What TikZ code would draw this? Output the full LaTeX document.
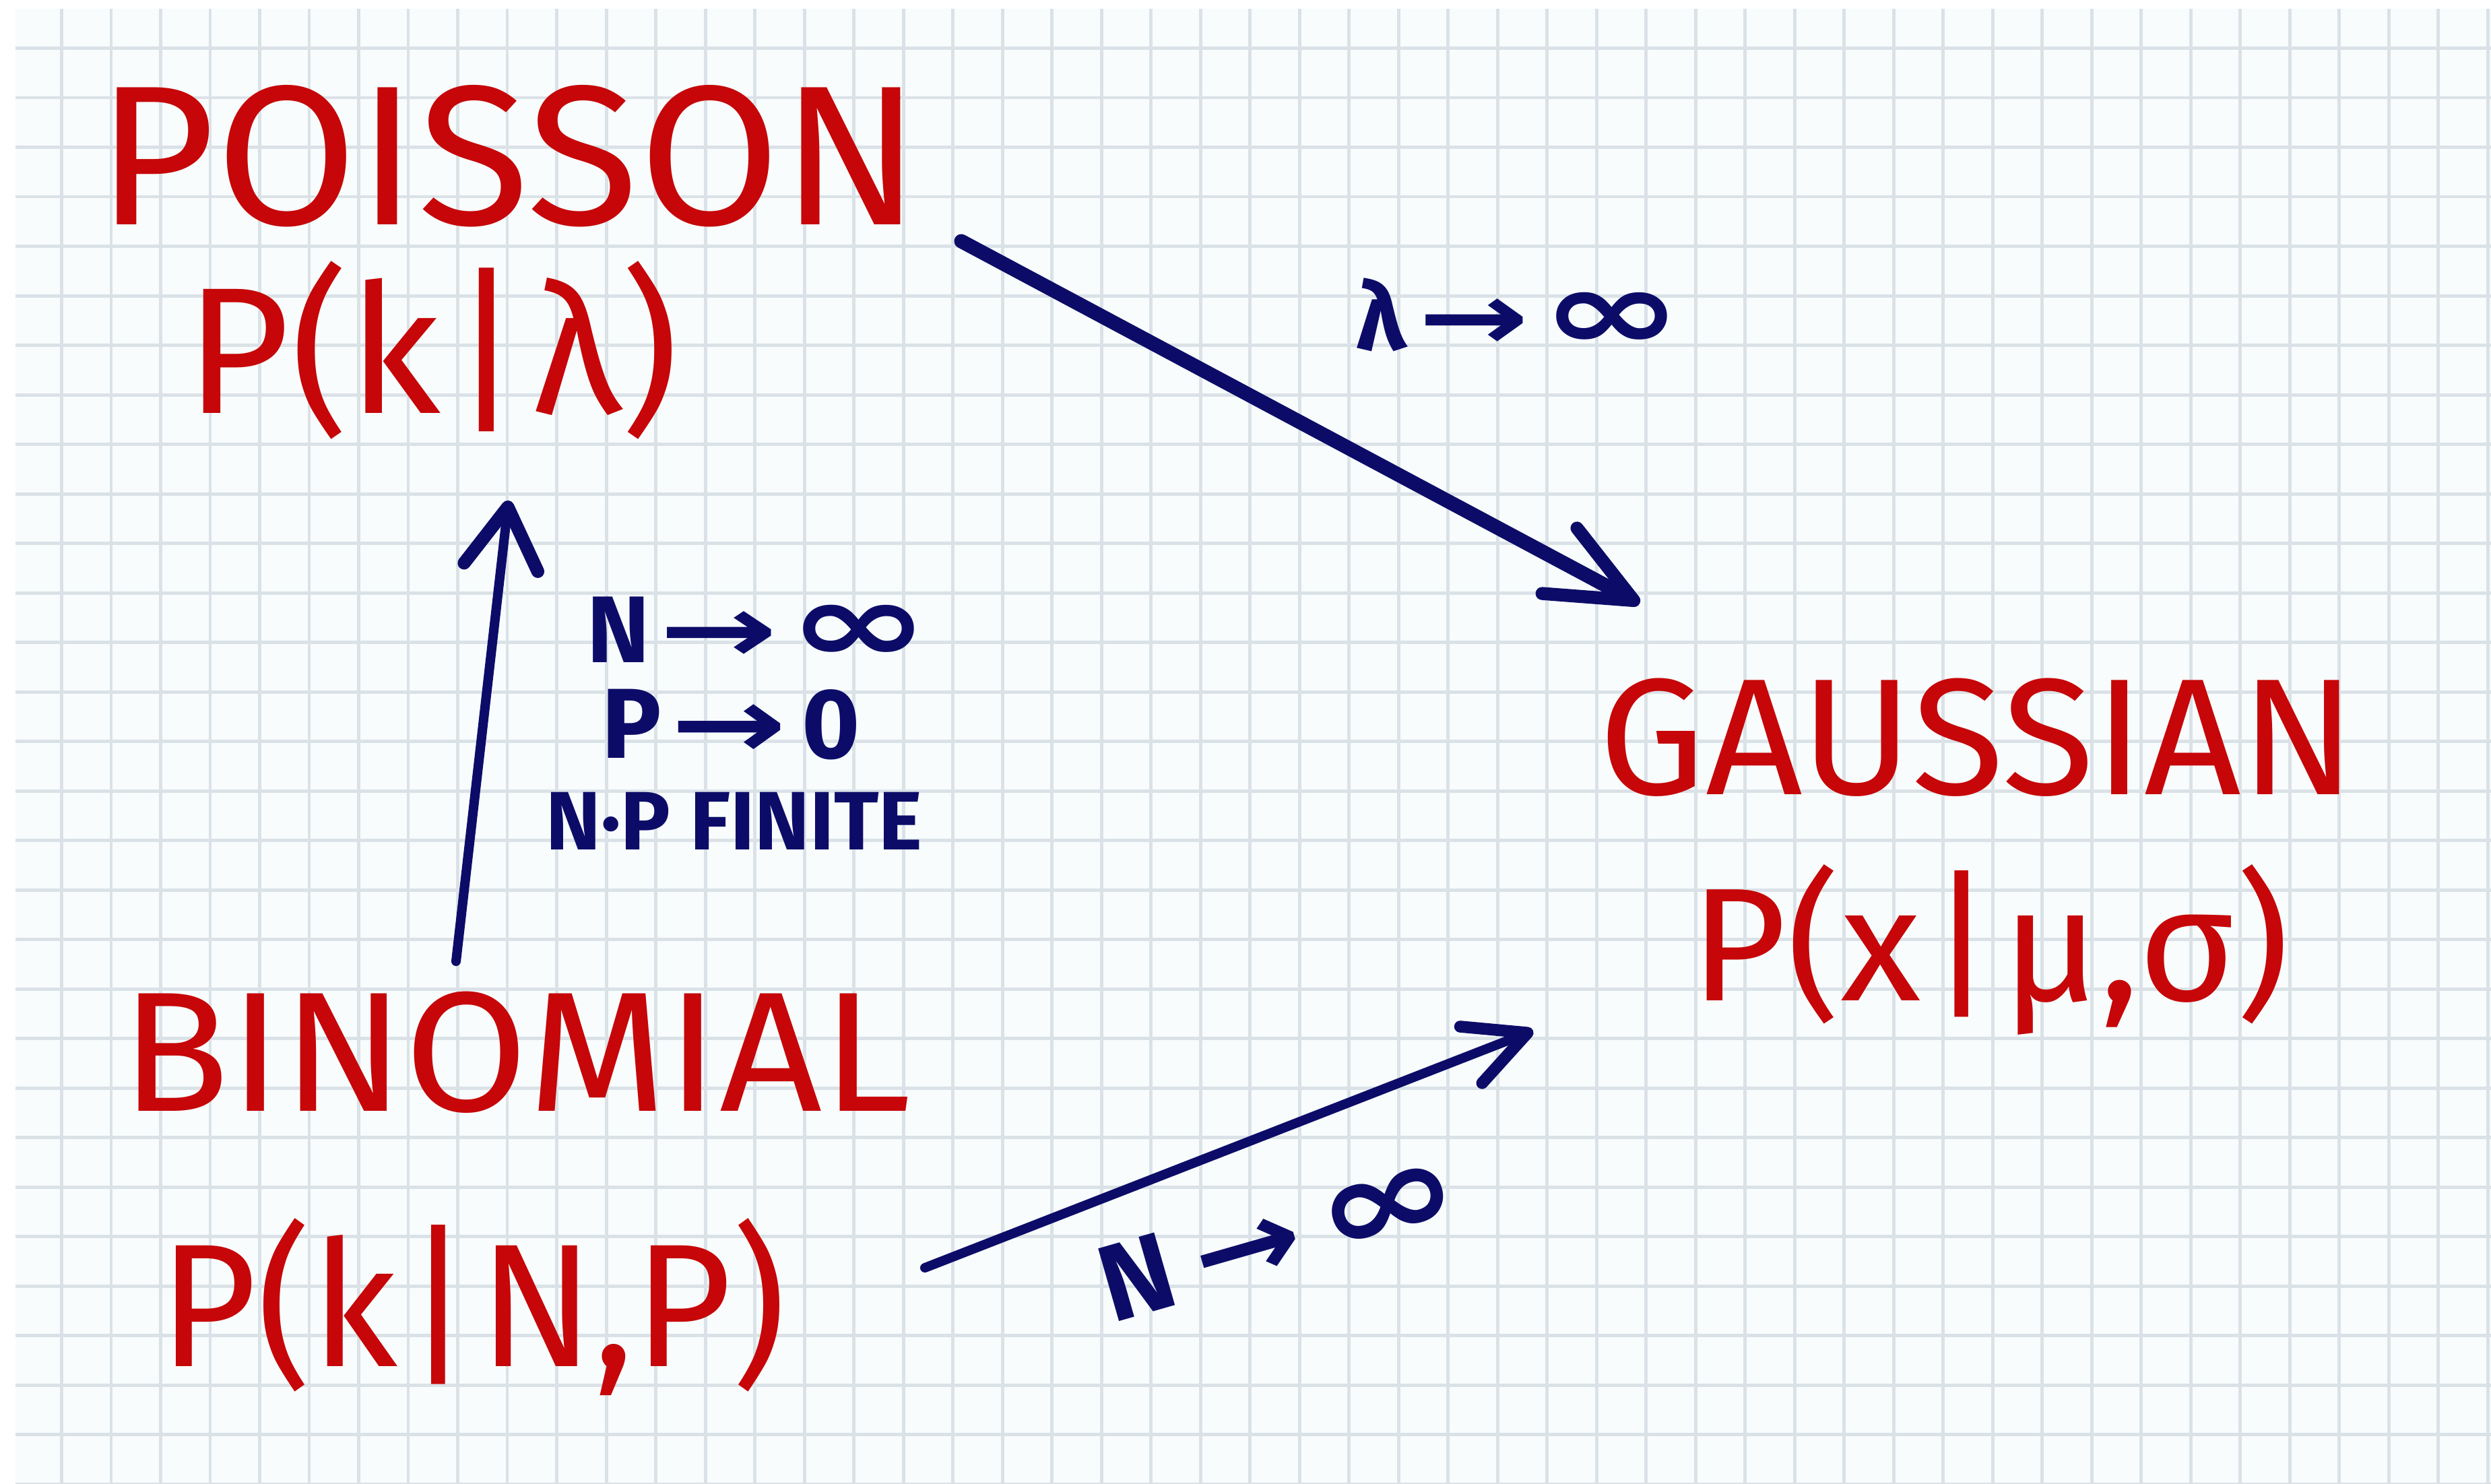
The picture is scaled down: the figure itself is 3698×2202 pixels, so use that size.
\documentclass[tikz,border=0pt]{standalone}
\usepackage{fontspec}
\usepackage{graphicx}
\setmainfont{Fira Sans}
\newfontfamily\symf{DejaVu Sans}
\usetikzlibrary{arrows.meta}
\definecolor{inkred}{RGB}{198,6,8}
\definecolor{inkblue}{RGB}{12,12,104}
\definecolor{paper}{RGB}{248,252,253}
\definecolor{gridc}{RGB}{218,226,231}
\newcommand\harr[1]{\scalebox{#1}[1]{\symf\bfseries →}}
\newcommand\hinf[2]{\scalebox{#1}[#2]{\symf\bfseries ∞}}
\begin{document}
\begin{tikzpicture}[x=0.01cm,y=-0.01cm,
  redlbl/.style={text=inkred, inner sep=0pt, anchor=center},
  bluelbl/.style={text=inkblue, inner sep=0pt, anchor=center},
  gridline/.style={draw=gridc, line width=1.3pt},
  inkarrow/.style={draw=inkblue, line cap=round, line join=round}]
\useasboundingbox (0,0) rectangle (3698,2202);
\fill[white] (0,0) rectangle (3698,2202);
\fill[paper] (23,13) rectangle (3698,2202);
\begin{scope}
\clip (23,13) rectangle (3698,2202);
\foreach \i in {0,...,49} \draw[gridline] ({91.7+73.5*\i},13) -- ({91.7+73.5*\i},2202);
\foreach \j in {0,...,29} \draw[gridline] (23,{71.7+73.5*\j}) -- (3698,{71.7+73.5*\j});
\end{scope}

% red labels
\node[redlbl, font=\fontsize{84}{86}\selectfont, xscale=1.03] (poisson) at (755,232) {POISSON};
\node[redlbl, font=\fontsize{76}{78}\selectfont] (poissonp) at (642,520) {P(k\kern4pt|\kern4ptλ)};
\node[redlbl, font=\fontsize{72}{74}\selectfont, xscale=1.05] (binomial) at (766,1562) {BINOMIAL};
\node[redlbl, font=\fontsize{74}{76}\selectfont, xscale=0.96] (binomialp) at (702,1940) {P(k\kern3pt|\kern3ptN,P)};
\node[redlbl, font=\fontsize{70}{72}\selectfont, xscale=1.02] (gaussian) at (2936,1095) {GAUSSIAN};
\node[redlbl, font=\fontsize{68}{70}\selectfont, xscale=1.03] (gaussianp) at (2954,1410) {P(x\kern3pt|\kern3ptμ,σ)};

% blue labels
\node[bluelbl, font=\fontsize{40}{42}\selectfont\bfseries] (lamlbl) at (2256,467) {λ\kern5pt\harr{1.4}\kern5pt\hinf{1.8}{1.2}};
\node[bluelbl, font=\fontsize{40}{42}\selectfont\bfseries] (cond1) at (1126,935) {N\kern4pt\harr{1.5}\kern4pt\hinf{1.8}{1.2}};
\node[bluelbl, font=\fontsize{42}{44}\selectfont\bfseries] (cond2) at (1085,1076) {P\kern4pt\harr{1.4}\kern6pt0};
\node[bluelbl, font=\fontsize{35}{37}\selectfont\bfseries] (cond3) at (1090,1219) {N·P FINITE};
\node[bluelbl, font=\fontsize{46}{48}\selectfont\bfseries, rotate=16] (nlbl) at (1900,1835) {N\kern10pt\harr{1.2}\kern8pt\hinf{1.6}{1.2}};

% connectors
\coordinate (pgA) at (1427,358);
\coordinate (pgB) at (2434,896);
\coordinate (bpA) at (677,1427);
\coordinate (bpB) at (755,743);
\coordinate (bgA) at (1373,1882);
\coordinate (bgB) at (2276,1530);
\draw[inkarrow, line width=6pt, -{Straight Barb[length=1.25cm,width=1.1cm,line width=5.5pt,round]}] (pgA) -- (pgB);
\draw[inkarrow, line width=4pt, -{Straight Barb[length=0.9cm,width=1.1cm,line width=5.5pt,round]}] (bpA) -- (bpB);
\draw[inkarrow, line width=4pt, -{Straight Barb[length=0.9cm,width=0.9cm,line width=5pt,round]}] (bgA) -- (bgB);
\end{tikzpicture}
\end{document}
